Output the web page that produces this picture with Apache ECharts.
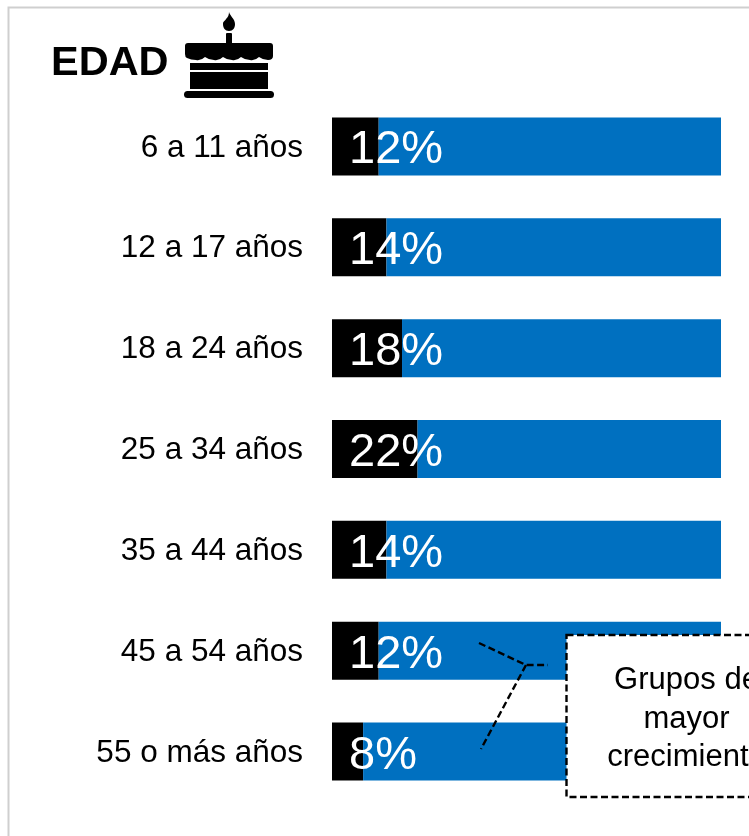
<!DOCTYPE html>
<html><head><meta charset="utf-8">
<script src="https://cdn.jsdelivr.net/npm/echarts@6/dist/echarts.min.js"></script>
<style>html,body{margin:0;padding:0;background:#fff;overflow:hidden}#c{width:749px;height:836px}</style>
</head><body><div id="c"></div>
<script>
const categories = ['6 a 11 años','12 a 17 años','18 a 24 años','25 a 34 años','35 a 44 años','45 a 54 años','55 o más años'];
const shareValues = [12,14,18,22,14,12,8];
const restValues = [88,86,82,78,86,88,92];
const titleText = 'EDAD';
const calloutLines = 'Grupos de\nmayor\ncrecimiento';
const FONT = '"Liberation Sans", Arial, sans-serif';
const dash = {stroke:'#000',lineWidth:2.4,lineDash:[7,3.5]};
echarts.graphic.registerShape('cakeFlame', echarts.graphic.extendPath('M229 12 C230 16 235 19 235 24 C235 28 233 31 229 31 C225 31 223 28 223 24 C223 21 225 21 226 19 C228 17 229 15 229 12 Z',{}));
echarts.graphic.registerShape('cakeIcing', echarts.graphic.extendPath('M188 43 L270 43 Q273 43 273 46 L273 56 Q273 60 268 60 Q263 60 259 57 Q255 61 250 60 Q245 60 241 57 Q237 61 232 60 Q227 60 223 57 Q219 61 214 60 Q209 60 205 57 Q201 61 196 60 Q191 60 187 58 Q185 57 185 54 L185 46 Q185 43 188 43 Z',{}));
const chart = echarts.init(document.getElementById('c'),null,{renderer:'canvas'});
chart.setOption({
  animation:false,
  backgroundColor:'#fff',
  grid:{left:332,right:28,top:96,height:706,containLabel:false},
  xAxis:{type:'value',min:0,max:100,show:false},
  yAxis:{type:'category',inverse:true,data:categories,
    axisLine:{show:false},axisTick:{show:false},
    axisLabel:{color:'#000',fontFamily:FONT,fontSize:31.5,margin:29,verticalAlign:'top',lineHeight:3}},
  series:[
    {type:'bar',stack:'a',data:shareValues,barWidth:58,itemStyle:{color:'#000'},
     label:{show:true,position:'insideLeft',distance:17,offset:[0,4],formatter:'{c}%',color:'#fff',fontFamily:FONT,fontSize:47}},
    {type:'bar',stack:'a',data:restValues,barWidth:58,itemStyle:{color:'#0070C0'}}
  ],
  graphic:{elements:[
    {type:'polyline',z:1,silent:true,shape:{points:[[8.5,836],[8.5,7.5],[749,7.5]]},style:{stroke:'#cfcfcf',lineWidth:2,fill:null}},
    {type:'text',z:10,x:51,y:64,style:{text:titleText,fill:'#000',font:'bold 41.5px '+FONT,textAlign:'left',textVerticalAlign:'middle'}},
    {type:'cakeFlame',z:10,style:{fill:'#000'}},
    {type:'rect',z:10,shape:{x:226,y:33,width:6,height:12,r:1},style:{fill:'#000'}},
    {type:'cakeIcing',z:10,style:{fill:'#000'}},
    {type:'rect',z:10,shape:{x:190,y:63,width:78,height:7},style:{fill:'#000'}},
    {type:'rect',z:10,shape:{x:190,y:72,width:78,height:17},style:{fill:'#000'}},
    {type:'rect',z:10,shape:{x:184,y:91,width:90,height:7,r:3.5},style:{fill:'#000'}},
    {type:'polyline',z:10,shape:{points:[[479,643],[526,665],[548,665]]},style:Object.assign({fill:null},dash)},
    {type:'line',z:10,shape:{x1:526,y1:665,x2:481,y2:749},style:dash},
    {type:'rect',z:10,shape:{x:566.5,y:635,width:260,height:162},style:Object.assign({fill:'#fff'},dash)},
    {type:'text',z:11,x:686.5,y:719,style:{text:calloutLines,fill:'#000',font:'31px '+FONT,lineHeight:38.5,textAlign:'center',textVerticalAlign:'middle'}}
  ]}
});
</script></body></html>
